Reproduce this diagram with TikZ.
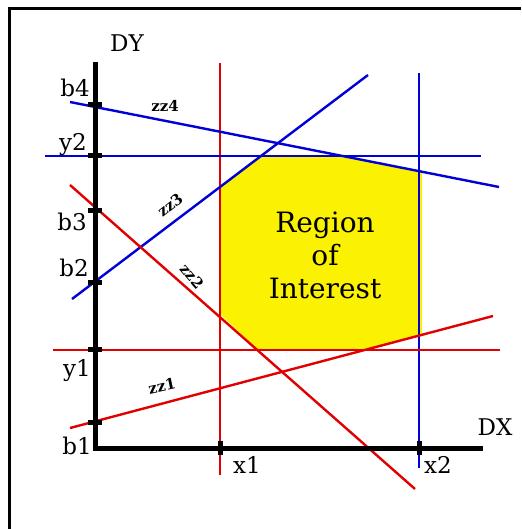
\documentclass[tikz,border=0pt]{standalone}
\usepackage{fontspec}
\setmainfont{DejaVu Serif}
\definecolor{lnred}{RGB}{225,0,0}
\definecolor{lnblue}{RGB}{0,0,215}
\definecolor{roi}{RGB}{250,242,0}
\begin{document}
\begin{tikzpicture}[x=1pt,y=-1pt,
  redln/.style={draw=lnred, line width=2.4pt},
  blueln/.style={draw=lnblue, line width=2.4pt},
  axisln/.style={draw=black, line width=5pt},
  tickln/.style={draw=black, line width=5pt},
  lbl/.style={font=\fontsize{23}{26}\selectfont, inner sep=0pt},
  linelbl/.style={font=\fontsize{15}{15}\selectfont\bfseries, inner sep=0pt}]
\useasboundingbox (0,0) rectangle (521,529);
% frame
\draw[line width=3pt] (9,529) -- (9,9) -- (521,9);
% region of interest
\fill[roi] (262,155) -- (343,155) -- (422,171) -- (422,336) -- (364,349) -- (257,349) -- (221,315) -- (221,186) -- cycle;
% coordinates
\coordinate (x1t) at (220,63); \coordinate (x1b) at (220,475);
\coordinate (x2t) at (419,73); \coordinate (x2b) at (419,468);
\coordinate (y1l) at (53,350); \coordinate (y1r) at (500,350);
\coordinate (y2l) at (45,156); \coordinate (y2r) at (481,156);
\coordinate (l4a) at (70,102); \coordinate (l4b) at (499,187);
\coordinate (l3a) at (72,299); \coordinate (l3b) at (368,75);
\coordinate (l2a) at (70,185); \coordinate (l2b) at (415,489);
\coordinate (l1a) at (70,428); \coordinate (l1b) at (493,316);
% lines
\draw[redln] (x1t) -- (x1b);
\draw[blueln] (x2t) -- (x2b);
\draw[redln] (y1l) -- (y1r);
\draw[blueln] (y2l) -- (y2r);
\draw[blueln] (l4a) -- (l4b);
\draw[blueln] (l3a) -- (l3b);
\draw[redln] (l2a) -- (l2b);
\draw[redln] (l1a) -- (l1b);
% axes
\coordinate (ytop) at (95,65);
\coordinate (orig) at (95,448);
\coordinate (xend) at (480,448);
\draw[axisln, line cap=rect] (ytop) -- (orig) -- (xend);
% ticks on DY
\foreach \yy in {105,156,210,282,349,422}
  \draw[tickln] (88,\yy) -- (102,\yy);
% ticks on DX
\foreach \xx in {220,419}
  \draw[tickln] (\xx,441) -- (\xx,455);
% labels
\node[lbl] (dy) at (127,43) {DY};
\node[lbl] (dx) at (495,427) {DX};
\node[lbl] (b4) at (75,88) {b4};
\node[lbl] (y2) at (73,145) {y2};
\node[lbl] (b3) at (72,222) {b3};
\node[lbl] (b2) at (74,268) {b2};
\node[lbl] (y1) at (77,371) {y1};
\node[lbl] (b1) at (77,446) {b1};
\node[lbl] (x1) at (247,465) {x1};
\node[lbl] (x2) at (438,465) {x2};
\node[font=\fontsize{28}{33}\selectfont, align=center, inner sep=0pt] (roitext) at (325,255) {Region\\of\\Interest};
% line labels
\node[linelbl] (zz4) at (165,106) {zz4};
\node[linelbl, rotate=38] (zz3) at (170,205) {zz3};
\node[linelbl, rotate=-50] (zz2) at (192,276) {zz2};
\node[linelbl, rotate=12] (zz1) at (162,386) {zz1};
\end{tikzpicture}
\end{document}
